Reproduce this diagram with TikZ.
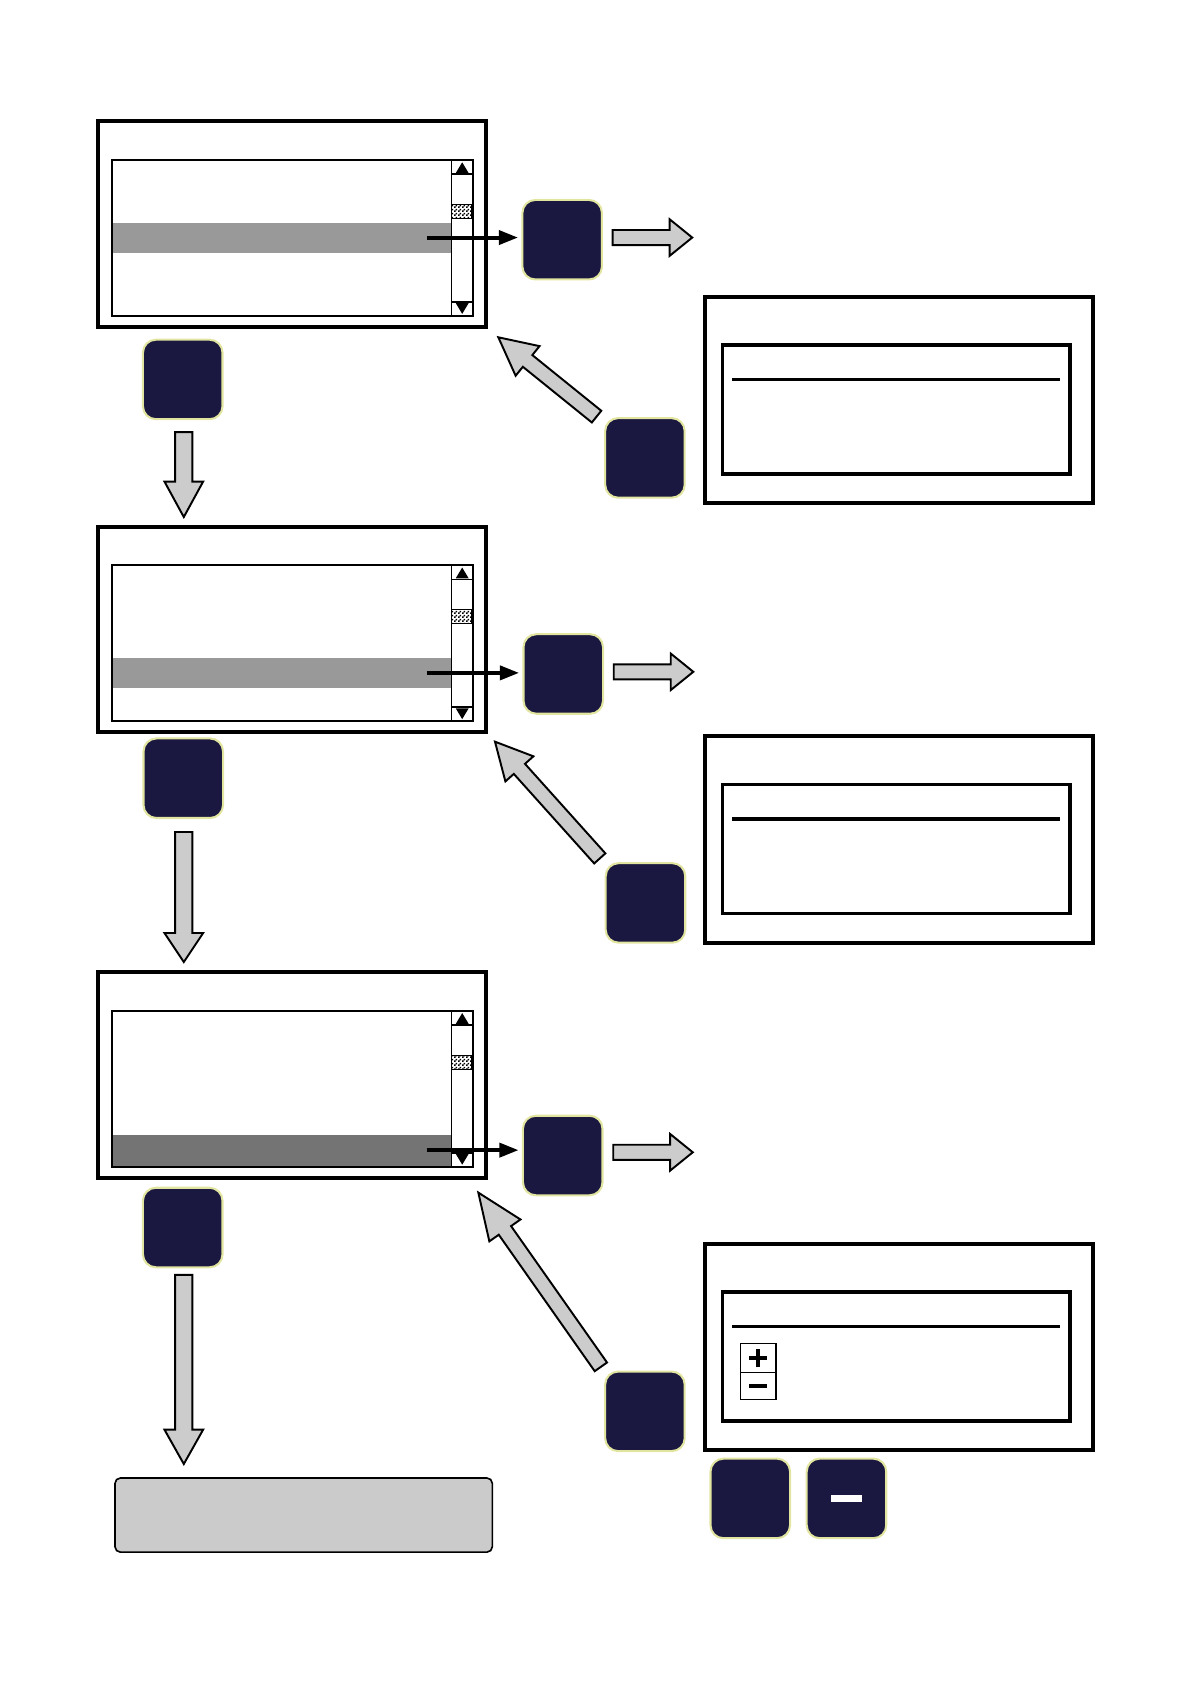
\documentclass[tikz,border=0pt]{standalone}
\usetikzlibrary{calc,arrows.meta,patterns}
\definecolor{navy}{HTML}{1A1840}
\definecolor{btnedge}{HTML}{E2E5A0}
\definecolor{arrgray}{HTML}{CCCCCC}
\definecolor{hlgray}{HTML}{999999}
\definecolor{hldark}{HTML}{747474}
\definecolor{boxgray}{HTML}{CBCBCB}
\pgfdeclarepatternformonly{finecheck}{\pgfpointorigin}{\pgfqpoint{3.2pt}{3.2pt}}{\pgfqpoint{3.2pt}{3.2pt}}{%
  \pgfpathrectangle{\pgfpointorigin}{\pgfqpoint{1.6pt}{1.6pt}}%
  \pgfpathrectangle{\pgfqpoint{1.6pt}{1.6pt}}{\pgfqpoint{1.6pt}{1.6pt}}%
  \pgfusepath{fill}}
\tikzset{
  box/.style={draw, inner sep=0pt, outer sep=0pt},
  screenouter/.style={box, line width=3.7pt},
  listbox/.style={box, line width=1.8pt},
  panelouter/.style={box, line width=3.7pt},
  panelinner/.style={box, line width=3.3pt},
  btn/.style={draw=btnedge, fill=navy, line width=1.9pt, rounded corners=12pt,
    minimum width=74pt, minimum height=74pt, inner sep=0pt, outer sep=0pt},
  garrow/.style={fill=arrgray, draw=black, line width=1.8pt, line join=miter},
  blackarrow/.style={line width=3.7pt, -{Triangle[length=18pt,width=13pt]}},
  scrollline/.style={line width=1.5pt},
  hlbar/.style={inner sep=0pt, outer sep=0pt, minimum width=316pt},
}
% #1 tail, #2 tip, #3 shaft half width, #4 head half width, #5 head length
\newcommand\blockarrow[5]{%
  \coordinate (ba-h) at ($(#2)!#5pt!(#1)$);
  \draw[garrow] ($(#1)!#3pt!90:(#2)$) -- ($(ba-h)!#3pt!-90:(#1)$) -- ($(ba-h)!#4pt!-90:(#1)$)
    -- (#2) -- ($(ba-h)!#4pt!90:(#1)$) -- ($(ba-h)!#3pt!90:(#1)$) -- ($(#1)!#3pt!-90:(#2)$) -- cycle;
}
% #1 name, #2 top, #3 highlight offset, #4 highlight colour, #5 highlight height
\newcommand\screenunit[5]{%
  \node[screenouter, minimum width=361pt, minimum height=191pt] (scr#1) at (271.5,{#2+95.5}) {};
  \node[hlbar, fill=#4, minimum height=#5pt] (hl#1) at (262,{#2+#3+#5/2}) {};
  \node[listbox, minimum width=336pt, minimum height=145pt] (lst#1) at (272,{#2+108.5}) {};
  \draw[scrollline] (420,{#2+36}) -- (420,{#2+181});
  \draw[scrollline] (420,{#2+49}) -- (440,{#2+49});
  \draw[scrollline] (420,{#2+168}) -- (440,{#2+168});
  \fill (424,{#2+48}) -- (436,{#2+48}) -- (430,{#2+38}) -- cycle;
  \fill (424,{#2+169}) -- (436,{#2+169}) -- (430,{#2+179}) -- cycle;
  \node[fill=white, pattern=finecheck, draw, line width=0.9pt, inner sep=0pt, minimum width=19pt,
    minimum height=13pt] (thumb#1) at (429.5,{#2+83.5}) {};
}
% #1 name, #2 top
\newcommand\panelunit[2]{%
  \node[panelouter, minimum width=361.5pt, minimum height=192pt] (pan#1) at (836.25,{#2+96}) {};
  \node[panelinner, minimum width=323.5pt, minimum height=120pt] (pin#1) at (833.75,{#2+105}) {};
  \draw[line width=3.3pt] ([xshift=9pt]pin#1.west |- 0,{#2+77}) -- ([xshift=-9pt]pin#1.east |- 0,{#2+77});
}
\begin{document}
\begin{tikzpicture}[x=1pt,y=-1pt]
\useasboundingbox (0,0) rectangle (1108,1567.6);

% screens
\screenunit{1}{113}{94}{hlgray}{28}
\screenunit{2}{490}{122}{hlgray}{28}
\screenunit{3}{904.5}{151}{hldark}{29}

% panels
\panelunit{1}{276}
\panelunit{2}{685}
\panelunit{3}{1157}

% plus / minus boxes in panel 3
\node[box, line width=1.5pt, minimum width=33pt, minimum height=27pt] (plusbox) at (705.5,1263.5) {};
\node[box, line width=1.5pt, minimum width=33pt, minimum height=25pt] (minusbox) at (705.5,1289.5) {};
\draw[line width=4pt] ([xshift=-8.5pt]plusbox.center) -- ([xshift=8.5pt]plusbox.center);
\draw[line width=4pt] ([yshift=-8.5pt]plusbox.center) -- ([yshift=8.5pt]plusbox.center);
\draw[line width=4pt] ([xshift=-8.5pt]minusbox.center) -- ([xshift=8.5pt]minusbox.center);

% buttons to the right of screens
\node[btn] (btnR1) at (523,223) {};
\node[btn] (btnR2) at (524,627) {};
\node[btn] (btnR3) at (523.5,1075) {};
% buttons below screens
\node[btn] (btnD1) at (170,353) {};
\node[btn] (btnD2) at (170.5,724) {};
\node[btn] (btnD3) at (170,1142) {};
% buttons beside panels
\node[btn] (btnB1) at (600,426) {};
\node[btn] (btnB2) at (600.5,840) {};
\node[btn] (btnB3) at (600,1313) {};
% buttons under panel 3
\node[btn] (btnA) at (698,1394) {};
\node[btn] (btnM) at (787.5,1394) {};
\fill[white] ([shift={(-14pt,-3.5pt)}]btnM.center) rectangle ([shift={(14pt,3.5pt)}]btnM.center);

% end box
\node[draw, fill=boxgray, line width=1.5pt, rounded corners=5pt, minimum width=351pt,
  minimum height=69pt, inner sep=0pt] (endbox) at (282.5,1409.5) {};

% black arrows from highlighted row to button
\draw[blackarrow, shorten >=4pt] ([xshift=-23pt]hl1.east) -- (hl1.east -| btnR1.west);
\draw[blackarrow, shorten >=4pt] ([xshift=-23pt]hl2.east) -- (hl2.east -| btnR2.west);
\draw[blackarrow, shorten >=4pt] ([xshift=-23pt]hl3.east) -- (hl3.east -| btnR3.west);

% grey right arrows
\coordinate (ra1s) at ([shift={(10pt,2pt)}]btnR1.east);
\coordinate (ra1e) at ([shift={(84pt,2pt)}]btnR1.east);
\coordinate (ra2s) at ([shift={(10pt,2pt)}]btnR2.east);
\coordinate (ra2e) at ([shift={(84pt,2pt)}]btnR2.east);
\coordinate (ra3s) at ([shift={(10pt,3pt)}]btnR3.east);
\coordinate (ra3e) at ([shift={(84pt,3pt)}]btnR3.east);
\blockarrow{ra1s}{ra1e}{7}{17}{21}
\blockarrow{ra2s}{ra2e}{7}{17}{21}
\blockarrow{ra3s}{ra3e}{7}{17}{21}

% grey down arrows
\coordinate (da1s) at (171,402);
\coordinate (da1e) at (171,481);
\coordinate (da2s) at (171,774);
\coordinate (da2e) at (171,895);
\coordinate (da3s) at (171,1186);
\coordinate (da3e) at (171,1362);
\blockarrow{da1s}{da1e}{8}{18}{33}
\blockarrow{da2s}{da2e}{8}{18}{27}
\blockarrow{da3s}{da3e}{8}{18}{32}

% grey diagonal arrows back to the screens
\coordinate (ga1s) at (555,387.6);
\coordinate (ga1e) at (463.6,313.8);
\coordinate (ga2s) at (558,798.6);
\coordinate (ga2e) at (460.5,690);
\coordinate (ga3s) at (559,1271.6);
\coordinate (ga3e) at (445,1109.5);
\blockarrow{ga1s}{ga1e}{7}{17.7}{35}
\blockarrow{ga2s}{ga2e}{7}{17.5}{34}
\blockarrow{ga3s}{ga3e}{7}{17.7}{43}
\end{tikzpicture}
\end{document}
